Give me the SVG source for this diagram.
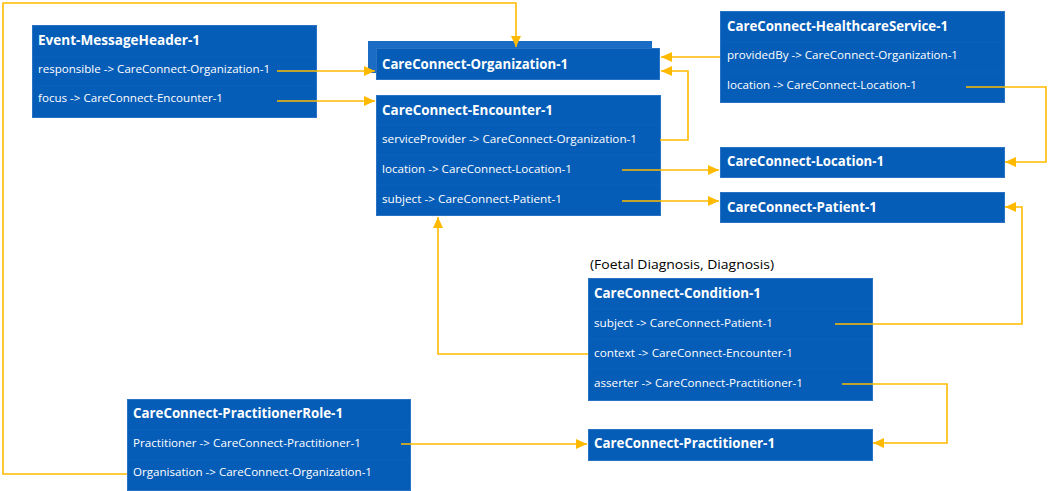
<svg xmlns="http://www.w3.org/2000/svg" width="1048" height="491" viewBox="0 0 1048 491">
<style>
.box{fill:#065DB7;stroke:#2A72C4;stroke-width:1}
.back{fill:#1A6CC4}
.sep{stroke:#0A62BC;stroke-width:1}
.t{font-family:"Open Sans","Noto Sans","Liberation Sans",sans-serif;font-weight:bold;font-size:14px;fill:#FFFFFF}
.r{font-family:"Open Sans","Noto Sans","Liberation Sans",sans-serif;font-size:11px;fill:#FFFFFF}
.lbl{font-family:"Open Sans","Noto Sans","Liberation Sans",sans-serif;font-size:13.5px;fill:#000000}
.c{fill:none;stroke:#FFBA00;stroke-width:1.6}
</style>
<defs>
<marker id="ah" markerUnits="userSpaceOnUse" markerWidth="12" markerHeight="10" refX="11" refY="5" orient="auto">
<path d="M0,0 L11,5 L0,10 Z" fill="#FFBA00"/>
</marker>
</defs>
<g id="event-messageheader">
<rect class="box" x="32.5" y="25.5" width="284" height="92"/>
<line class="sep" x1="33" y1="57" x2="316" y2="57"/>
<line class="sep" x1="33" y1="86" x2="316" y2="86"/>
<text class="t" x="38" y="45" textLength="162" lengthAdjust="spacingAndGlyphs">Event-MessageHeader-1</text>
<text class="r" x="38" y="73" textLength="232" lengthAdjust="spacingAndGlyphs">responsible -&gt; CareConnect-Organization-1</text>
<text class="r" x="38" y="102" textLength="185" lengthAdjust="spacingAndGlyphs">focus -&gt; CareConnect-Encounter-1</text>
</g>
<g id="organization">
<rect class="back" x="368" y="41" width="284" height="32"/>
<rect class="box" x="376.5" y="48.5" width="283" height="31"/>
<text class="t" x="382" y="69" textLength="186" lengthAdjust="spacingAndGlyphs">CareConnect-Organization-1</text>
</g>
<g id="encounter">
<rect class="box" x="376.5" y="95.5" width="284" height="120"/>
<line class="sep" x1="377" y1="125" x2="660" y2="125"/>
<line class="sep" x1="377" y1="155" x2="660" y2="155"/>
<line class="sep" x1="377" y1="185" x2="660" y2="185"/>
<text class="t" x="382" y="115" textLength="171" lengthAdjust="spacingAndGlyphs">CareConnect-Encounter-1</text>
<text class="r" x="382" y="143" textLength="255" lengthAdjust="spacingAndGlyphs">serviceProvider -&gt; CareConnect-Organization-1</text>
<text class="r" x="382" y="173" textLength="190" lengthAdjust="spacingAndGlyphs">location -&gt; CareConnect-Location-1</text>
<text class="r" x="382" y="203" textLength="180" lengthAdjust="spacingAndGlyphs">subject -&gt; CareConnect-Patient-1</text>
</g>
<g id="healthcareservice">
<rect class="box" x="720.5" y="11.5" width="284" height="91"/>
<line class="sep" x1="721" y1="42" x2="1004" y2="42"/>
<line class="sep" x1="721" y1="72" x2="1004" y2="72"/>
<text class="t" x="727" y="31" textLength="221" lengthAdjust="spacingAndGlyphs">CareConnect-HealthcareService-1</text>
<text class="r" x="727" y="59" textLength="231" lengthAdjust="spacingAndGlyphs">providedBy -&gt; CareConnect-Organization-1</text>
<text class="r" x="727" y="89" textLength="190" lengthAdjust="spacingAndGlyphs">location -&gt; CareConnect-Location-1</text>
</g>
<g id="location">
<rect class="box" x="720.5" y="147.5" width="284" height="30"/>
<text class="t" x="727" y="166" textLength="157" lengthAdjust="spacingAndGlyphs">CareConnect-Location-1</text>
</g>
<g id="patient">
<rect class="box" x="720.5" y="192.5" width="284" height="30"/>
<text class="t" x="727" y="212" textLength="150" lengthAdjust="spacingAndGlyphs">CareConnect-Patient-1</text>
</g>
<g id="condition">
<text class="lbl" x="590" y="269" textLength="184" lengthAdjust="spacingAndGlyphs">(Foetal Diagnosis, Diagnosis)</text>
<rect class="box" x="588.5" y="278.5" width="284" height="122"/>
<line class="sep" x1="589" y1="309" x2="872" y2="309"/>
<line class="sep" x1="589" y1="339" x2="872" y2="339"/>
<line class="sep" x1="589" y1="369" x2="872" y2="369"/>
<text class="t" x="594" y="298" textLength="167" lengthAdjust="spacingAndGlyphs">CareConnect-Condition-1</text>
<text class="r" x="594" y="327" textLength="179" lengthAdjust="spacingAndGlyphs">subject -&gt; CareConnect-Patient-1</text>
<text class="r" x="594" y="357" textLength="199" lengthAdjust="spacingAndGlyphs">context -&gt; CareConnect-Encounter-1</text>
<text class="r" x="594" y="387" textLength="209" lengthAdjust="spacingAndGlyphs">asserter -&gt; CareConnect-Practitioner-1</text>
</g>
<g id="practitioner">
<rect class="box" x="588.5" y="429.5" width="284" height="31"/>
<text class="t" x="594" y="448" textLength="181" lengthAdjust="spacingAndGlyphs">CareConnect-Practitioner-1</text>
</g>
<g id="practitionerrole">
<rect class="box" x="127.5" y="399.5" width="283" height="91"/>
<line class="sep" x1="128" y1="430" x2="410" y2="430"/>
<line class="sep" x1="128" y1="460" x2="410" y2="460"/>
<text class="t" x="133" y="418" textLength="210" lengthAdjust="spacingAndGlyphs">CareConnect-PractitionerRole-1</text>
<text class="r" x="133" y="447" textLength="228" lengthAdjust="spacingAndGlyphs">Practitioner -&gt; CareConnect-Practitioner-1</text>
<text class="r" x="133" y="476" textLength="239" lengthAdjust="spacingAndGlyphs">Organisation -&gt; CareConnect-Organization-1</text>
</g>
<g id="connectors">
<path class="c" d="M127,474 H3 V3 H516 V47" marker-end="url(#ah)"/>
<path class="c" d="M277,71 H375" marker-end="url(#ah)"/>
<path class="c" d="M277,101 H375" marker-end="url(#ah)"/>
<path class="c" d="M720,57 H661" marker-end="url(#ah)"/>
<path class="c" d="M660,140 H688 V71 H661" marker-end="url(#ah)"/>
<path class="c" d="M622,170 H719" marker-end="url(#ah)"/>
<path class="c" d="M622,201 H719" marker-end="url(#ah)"/>
<path class="c" d="M966,87 H1046 V162 H1005" marker-end="url(#ah)"/>
<path class="c" d="M835,324 H1022 V207 H1005" marker-end="url(#ah)"/>
<path class="c" d="M588,354 H438 V217" marker-end="url(#ah)"/>
<path class="c" d="M842,384 H947 V443 H873" marker-end="url(#ah)"/>
<path class="c" d="M401,444 H587" marker-end="url(#ah)"/>
</g>
</svg>
